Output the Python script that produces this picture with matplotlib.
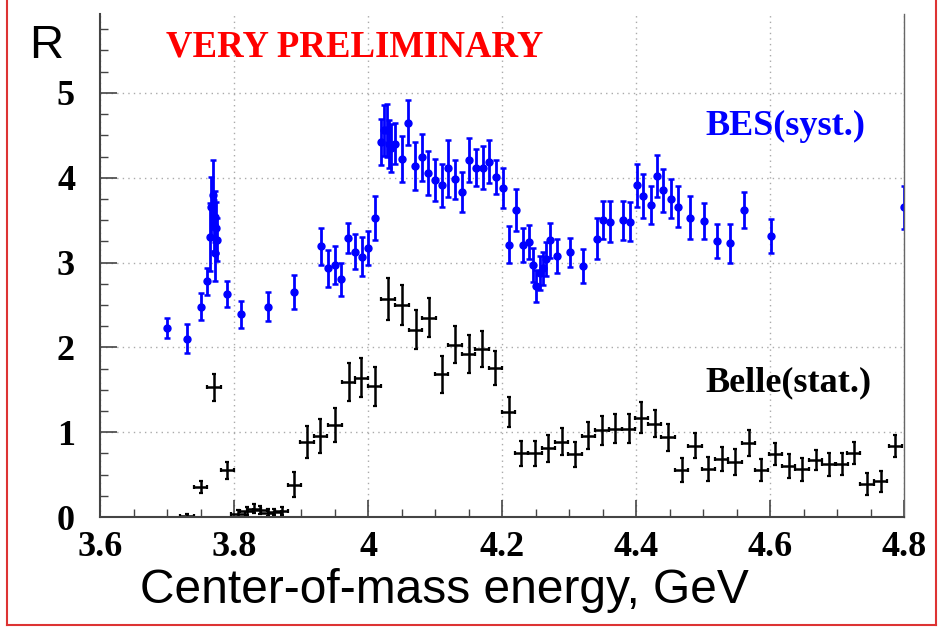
import matplotlib.pyplot as plt
from matplotlib.lines import Line2D
from matplotlib.ticker import MultipleLocator

# BES points (systematic errors)
bes_x = [3.700, 3.730, 3.750, 3.760, 3.764, 3.766, 3.768, 3.770, 3.771, 3.772,
         3.773, 3.775, 3.790, 3.810, 3.850, 3.890, 3.930, 3.940, 3.950, 3.960,
         3.970, 3.981, 3.991, 4.000, 4.011, 4.019, 4.024, 4.029, 4.031, 4.034,
         4.040, 4.050, 4.060, 4.070, 4.080, 4.090, 4.100, 4.110, 4.120, 4.130,
         4.141, 4.151, 4.161, 4.171, 4.181, 4.191, 4.201, 4.211, 4.221, 4.231,
         4.241, 4.246, 4.251, 4.256, 4.261, 4.266, 4.271, 4.282, 4.301, 4.321,
         4.342, 4.351, 4.361, 4.381, 4.391, 4.401, 4.411, 4.422, 4.431, 4.441,
         4.452, 4.462, 4.481, 4.502, 4.521, 4.541, 4.561, 4.601, 4.800]
bes_y = [2.23, 2.10, 2.48, 2.78, 3.30, 3.66, 3.80, 3.44, 3.11, 3.54,
         3.41, 3.27, 2.63, 2.39, 2.48, 2.65, 3.19, 2.93, 2.97, 2.80,
         3.29, 3.13, 3.07, 3.17, 3.53, 4.42, 4.56, 4.56, 4.40, 4.35,
         4.40, 4.22, 4.65, 4.14, 4.24, 4.06, 3.97, 3.91, 4.11, 3.98,
         3.83, 4.21, 4.12, 4.12, 4.19, 4.01, 3.88, 3.21, 3.62, 3.21,
         3.24, 2.97, 2.72, 2.88, 2.93, 3.04, 3.26, 3.08, 3.12, 2.96,
         3.28, 3.50, 3.48, 3.50, 3.48, 3.91, 3.78, 3.68, 4.02, 3.85,
         3.75, 3.66, 3.53, 3.49, 3.25, 3.23, 3.62, 3.31, 3.65]
bes_e = [0.12, 0.17, 0.16, 0.16, 0.40, 0.35, 0.41, 0.30, 0.33, 0.30,
         0.30, 0.25, 0.15, 0.16, 0.17, 0.20, 0.22, 0.22, 0.22, 0.20,
         0.18, 0.21, 0.23, 0.20, 0.26, 0.27, 0.30, 0.31, 0.28, 0.28,
         0.24, 0.27, 0.27, 0.28, 0.28, 0.26, 0.25, 0.25, 0.34, 0.23,
         0.24, 0.26, 0.22, 0.25, 0.25, 0.20, 0.24, 0.22, 0.25, 0.20,
         0.20, 0.20, 0.19, 0.20, 0.20, 0.20, 0.21, 0.20, 0.17, 0.20,
         0.24, 0.22, 0.24, 0.23, 0.23, 0.25, 0.26, 0.22, 0.25, 0.25,
         0.23, 0.24, 0.25, 0.21, 0.20, 0.23, 0.21, 0.20, 0.25]

# Belle points (statistical errors)
belle_x = [3.730, 3.750, 3.770, 3.790, 3.806, 3.819, 3.830, 3.839, 3.850, 3.860,
           3.871, 3.890, 3.909, 3.929, 3.951, 3.971, 3.990, 4.010, 4.030, 4.051,
           4.071, 4.091, 4.110, 4.130, 4.150, 4.170, 4.190, 4.210, 4.229, 4.249,
           4.269, 4.289, 4.309, 4.329, 4.349, 4.369, 4.389, 4.408, 4.428, 4.448,
           4.468, 4.488, 4.508, 4.528, 4.548, 4.568, 4.587, 4.608, 4.628, 4.648,
           4.668, 4.688, 4.707, 4.725, 4.745, 4.765, 4.787]
belle_y = [0.01, 0.35, 1.53, 0.55, 0.04, 0.07, 0.10, 0.08, 0.05, 0.06,
           0.07, 0.38, 0.88, 0.95, 1.08, 1.59, 1.64, 1.54, 2.57, 2.50,
           2.21, 2.35, 1.68, 2.03, 1.92, 1.98, 1.76, 1.24, 0.75, 0.75,
           0.81, 0.89, 0.74, 0.96, 1.02, 1.04, 1.04, 1.17, 1.10, 0.94,
           0.55, 0.84, 0.57, 0.68, 0.65, 0.87, 0.55, 0.74, 0.60, 0.56,
           0.67, 0.62, 0.63, 0.75, 0.39, 0.42, 0.84]
belle_e = [0.02, 0.07, 0.16, 0.10, 0.04, 0.05, 0.05, 0.05, 0.04, 0.04,
           0.05, 0.15, 0.19, 0.20, 0.20, 0.22, 0.23, 0.23, 0.25, 0.24,
           0.23, 0.23, 0.22, 0.22, 0.22, 0.21, 0.20, 0.18, 0.15, 0.15,
           0.16, 0.16, 0.15, 0.16, 0.17, 0.17, 0.17, 0.18, 0.16, 0.16,
           0.14, 0.15, 0.14, 0.14, 0.15, 0.15, 0.13, 0.13, 0.14, 0.14,
           0.12, 0.14, 0.13, 0.13, 0.13, 0.12, 0.13]
belle_xe = 0.01

xticks = [3.6, 3.8, 4.0, 4.2, 4.4, 4.6, 4.8]
xlabels = ['3.6', '3.8', '4', '4.2', '4.4', '4.6', '4.8']
yticks = [0, 1, 2, 3, 4, 5]

serif = 'Liberation Serif'
sans = 'Liberation Sans'

fig = plt.figure(figsize=(9.39, 6.32), dpi=100)
ax = fig.add_axes([100/939, 1-517/632, 804/939, 503/632])

ax.errorbar(belle_x, belle_y, yerr=belle_e, xerr=belle_xe, fmt='none',
            ecolor='black', elinewidth=1.8, capsize=1.6, capthick=1.6)
ax.errorbar(bes_x, bes_y, yerr=bes_e, fmt='o', color='#0000ff', ms=5,
            ecolor='#0000ff', elinewidth=2.0, capsize=2.0, capthick=1.8)

ax.set_xlim(3.6, 4.8)
ax.set_ylim(0, 5.93)
ax.set_xticks(xticks)
ax.set_xticklabels(xlabels)
ax.set_yticks(yticks)
ax.xaxis.set_minor_locator(MultipleLocator(0.05))
ax.yaxis.set_minor_locator(MultipleLocator(0.25))
ax.tick_params(which='major', direction='in', length=12, width=1.2, color='#444444')
ax.tick_params(which='minor', direction='in', length=6, width=1.0, color='#444444')
ax.tick_params(axis='x', pad=10)
ax.tick_params(axis='y', pad=18)
for lab in ax.get_xticklabels() + ax.get_yticklabels():
    lab.set_fontfamily(serif)
    lab.set_fontweight('bold')
    lab.set_fontsize(26)

ax.grid(True, which='major', color='#aaaaaa', linestyle=(0, (1, 3)), linewidth=1.0)
ax.spines['top'].set_visible(False)
for s in ['left', 'bottom']:
    ax.spines[s].set_color('#444444')
    ax.spines[s].set_linewidth(1.5)
ax.spines['right'].set_color('#666666')
ax.spines['right'].set_linewidth(1.0)

fig.text(355/939, 1-47/632, 'VERY PRELIMINARY', color='red', fontsize=26.5,
         fontweight='bold', family=serif, ha='center', va='center')
fig.text(705/939, 1-135/632, 'BES(syst.)', color='#0000ff',
         fontsize=26, fontweight='bold', family=serif, ha='left', va='baseline')
fig.text(705/939, 1-391/632, 'Belle(stat.)', color='black',
         fontsize=26, fontweight='bold', family=serif, ha='left', va='baseline')
fig.text(29/939, 1-58/632, 'R', fontsize=34, family=sans, ha='left', va='baseline')
fig.text(140/939, 1-603/632, 'Center-of-mass energy, GeV', fontsize=34.5, family=sans,
         ha='left', va='baseline')

# red frame around the slide box
red = '#dd3333'
fig.add_artist(Line2D([7/939, 7/939], [1.0, 1-625/632], color=red, lw=1.5))
fig.add_artist(Line2D([7/939, 936/939], [1-625/632, 1-625/632], color=red, lw=1.5))
fig.add_artist(Line2D([936/939, 936/939], [1.0, 1-625/632], color=red, lw=1.5))

fig.savefig('out.png', dpi=100)
